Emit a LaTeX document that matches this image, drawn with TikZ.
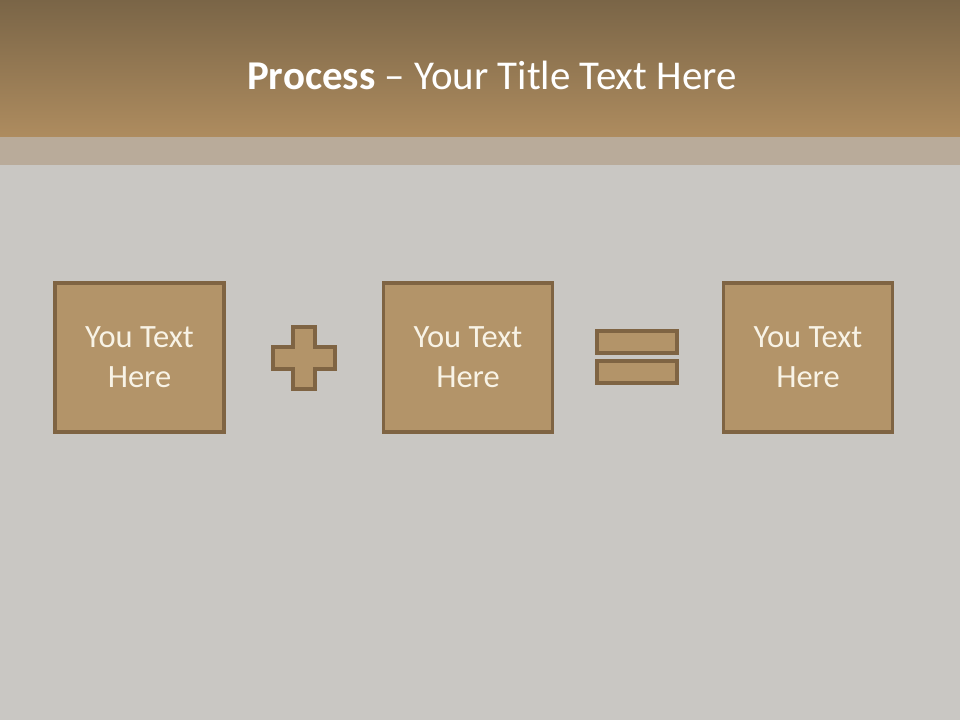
\documentclass[tikz,border=0pt]{standalone}
\usepackage{fontspec}
\setmainfont{Carlito}
\usepackage{xcolor}
\usepackage{tikz}
\usetikzlibrary{positioning}

\definecolor{headtop}{HTML}{7A6547}
\definecolor{headbot}{HTML}{AE8C5F}
\definecolor{bandcol}{HTML}{B9AB9A}
\definecolor{slidebg}{HTML}{C9C7C3}
\definecolor{tilefill}{HTML}{B39469}
\definecolor{tileline}{HTML}{7F6443}
\definecolor{tiletext}{HTML}{F8F3E6}

\begin{document}
\begin{tikzpicture}[
    x=0.02cm, y=-0.02cm,
    textbox/.style={rectangle, draw=tileline, fill=tilefill, line width=1.8pt, minimum width=3.38cm, minimum height=2.98cm, align=center, text=tiletext, font=\fontsize{18.5}{22.7}\selectfont},
    signshape/.style={draw=tileline, fill=tilefill, line width=1.8pt}
]

% Slide background and header
\fill[slidebg] (0,0) rectangle (960,720);
\useasboundingbox (0,0) rectangle (960,720);
\shade[top color=headtop, bottom color=headbot] (0,0) rectangle (960,137);
\fill[bandcol] (0,137) rectangle (960,165);

% Title
\node[text=white, font=\fontsize{23.3}{28}\selectfont] (title) at (492,75) {\textbf{Process} -- Your Title Text Here};

% Three text boxes
\node[textbox] (box1) at (139.5,357.5) {You Text\\Here};
\node[textbox] (box2) at (468,357.5) {You Text\\Here};
\node[textbox] (box3) at (808,357.5) {You Text\\Here};

% Plus sign
\draw[signshape] (293,327) -- (315,327) -- (315,347) -- (335,347) -- (335,369) -- (315,369)
    -- (315,389) -- (293,389) -- (293,369) -- (273,369) -- (273,347) -- (293,347) -- cycle;

% Equals sign
\draw[signshape] (597,331) rectangle (677,353);
\draw[signshape] (597,361) rectangle (677,383);

\end{tikzpicture}
\end{document}
